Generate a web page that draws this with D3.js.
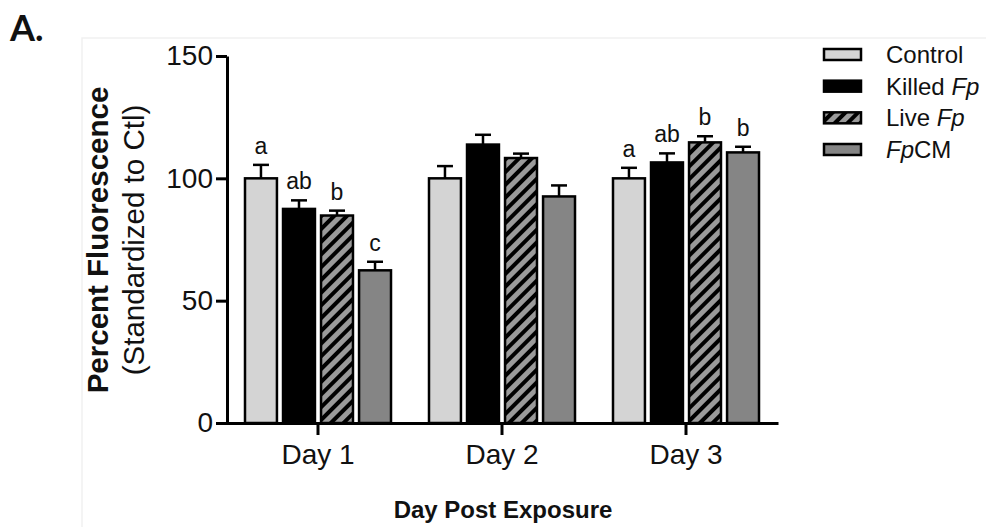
<!DOCTYPE html>
<html>
<head>
<meta charset="utf-8">
<script src="https://cdn.jsdelivr.net/npm/d3@7"></script>
<style>
  body { margin: 0; background: #fff; }
  svg { display: block; font-family: "Liberation Sans", Arial, sans-serif; }
</style>
</head>
<body>
<svg id="chart" width="986" height="527"></svg>
<script>
// data
const days = ["Day 1", "Day 2", "Day 3"];
const groups = ["Control", "Killed Fp", "Live Fp", "FpCM"];
const controlVals = [100, 100, 100];
const killedVals = [87.5, 113.8, 106.5];
const liveVals = [84.8, 108.3, 114.7];
const fpcmVals = [62.4, 92.6, 110.6];
const controlErr = [5.5, 5.0, 4.3];
const killedErr = [3.5, 4.0, 3.7];
const liveErr = [2.0, 1.8, 2.5];
const fpcmErr = [3.5, 4.5, 2.3];
const controlSig = ["a", "", "a"];
const killedSig = ["ab", "", "ab"];
const liveSig = ["b", "", "b"];
const fpcmSig = ["c", "", "b"];
const yTicks = [0, 50, 100, 150];

const fills = { "Control": "#d4d4d4", "Killed Fp": "#000", "Live Fp": "url(#hatch)", "FpCM": "#858585" };

const vals = [controlVals, killedVals, liveVals, fpcmVals];
const errs = [controlErr, killedErr, liveErr, fpcmErr];
const sigs = [controlSig, killedSig, liveSig, fpcmSig];

const rows = [];
days.forEach((day, i) => {
  groups.forEach((grp, j) => {
    rows.push({ day, grp, v: vals[j][i], e: errs[j][i], sig: sigs[j][i] });
  });
});

const svg = d3.select("#chart");

// hatch for Live Fp
const defs = svg.append("defs");
const pat = defs.append("pattern")
  .attr("id", "hatch")
  .attr("patternUnits", "userSpaceOnUse")
  .attr("width", 9).attr("height", 9)
  .attr("patternTransform", "rotate(45)");
pat.append("rect").attr("width", 9).attr("height", 9).attr("fill", "#9a9a9a");
pat.append("rect").attr("width", 4).attr("height", 9).attr("fill", "#000");

// faint frame of the pasted figure
svg.append("path")
  .attr("d", "M82,527 V38 H986")
  .attr("fill", "none").attr("stroke", "#f1f1f1").attr("stroke-width", 1.5);

const y = d3.scaleLinear().domain([0, 150]).range([423, 56]);
const x0 = d3.scaleBand().domain(days).range([226, 778]);
const groupW = 146;
const x1 = d3.scaleBand().domain(groups).range([0, groupW]).paddingInner(0.16);

const barX = d => x0(d.day) + x0.bandwidth() / 2 - groupW / 2 + x1(d.grp);

// bars
svg.append("g").selectAll("rect")
  .data(rows)
  .join("rect")
  .attr("x", barX)
  .attr("y", d => y(d.v))
  .attr("width", x1.bandwidth())
  .attr("height", d => y(0) - y(d.v))
  .attr("fill", d => fills[d.grp])
  .attr("stroke", "#000")
  .attr("stroke-width", 2.5);

// error bars (upper only)
const eb = svg.append("g").attr("stroke", "#000").attr("stroke-width", 2.5);
eb.selectAll("line.v")
  .data(rows)
  .join("line")
  .attr("class", "v")
  .attr("x1", d => barX(d) + x1.bandwidth() / 2)
  .attr("x2", d => barX(d) + x1.bandwidth() / 2)
  .attr("y1", d => y(d.v))
  .attr("y2", d => y(d.v + d.e));
eb.selectAll("line.cap")
  .data(rows)
  .join("line")
  .attr("class", "cap")
  .attr("x1", d => barX(d) + x1.bandwidth() / 2 - 8)
  .attr("x2", d => barX(d) + x1.bandwidth() / 2 + 8)
  .attr("y1", d => y(d.v + d.e))
  .attr("y2", d => y(d.v + d.e));

// significance letters
svg.append("g").selectAll("text")
  .data(rows.filter(d => d.sig))
  .join("text")
  .attr("x", d => barX(d) + x1.bandwidth() / 2)
  .attr("y", d => y(d.v + d.e) - 11)
  .attr("text-anchor", "middle")
  .attr("font-size", 23)
  .attr("fill", "#111")
  .text(d => d.sig);

// axes
const yAxis = svg.append("g")
  .attr("transform", "translate(227,0)")
  .call(d3.axisLeft(y).tickValues(yTicks).tickSize(11).tickSizeOuter(0).tickPadding(3));
const xAxis = svg.append("g")
  .attr("transform", "translate(0,423)")
  .call(d3.axisBottom(x0).tickSize(12).tickSizeOuter(0).tickPadding(9));
[yAxis, xAxis].forEach(a => {
  a.select(".domain").attr("stroke-width", 3);
  a.selectAll(".tick line").attr("stroke-width", 3);
  a.selectAll(".tick text").attr("font-size", 28).attr("fill", "#111")
    .attr("font-family", "'Liberation Sans', Arial, sans-serif");
});

// axis titles
svg.append("text")
  .attr("x", 503).attr("y", 518)
  .attr("text-anchor", "middle")
  .attr("font-size", 24).attr("font-weight", "bold").attr("fill", "#111")
  .text("Day Post Exposure");

const yt = svg.append("g").attr("transform", "translate(0,240) rotate(-90)");
yt.append("text")
  .attr("x", 0).attr("y", 108)
  .attr("text-anchor", "middle")
  .attr("font-size", 29.5).attr("font-weight", "bold").attr("fill", "#111")
  .text("Percent Fluorescence");
yt.append("text")
  .attr("x", 0).attr("y", 144)
  .attr("text-anchor", "middle")
  .attr("font-size", 29.5).attr("fill", "#111")
  .text("(Standardized to Ctl)");

// panel label
svg.append("text")
  .attr("x", 10).attr("y", 41)
  .attr("font-family", "Lato, 'Open Sans', sans-serif")
  .attr("font-size", 36).attr("font-weight", "bold").attr("fill", "#111")
  .text("A.");

// legend
const legendY = d3.scalePoint().domain(groups).range([55, 150]);
const leg = svg.append("g").selectAll("g")
  .data(groups)
  .join("g")
  .attr("transform", d => `translate(824,${legendY(d)})`);
leg.append("rect")
  .attr("x", 0).attr("y", -6)
  .attr("width", 37).attr("height", 11)
  .attr("fill", d => fills[d])
  .attr("stroke", "#000").attr("stroke-width", 2.5);
const lt = leg.append("text")
  .attr("x", 62).attr("y", 8)
  .attr("font-size", 24).attr("fill", "#111");
lt.each(function(d) {
  const t = d3.select(this);
  if (d === "Control") t.text("Control");
  else if (d === "FpCM") {
    t.append("tspan").attr("font-style", "italic").text("Fp");
    t.append("tspan").text("CM");
  } else {
    const w = d.split(" ");
    t.append("tspan").text(w[0] + " ");
    t.append("tspan").attr("font-style", "italic").text(w[1]);
  }
});
</script>
</body>
</html>
